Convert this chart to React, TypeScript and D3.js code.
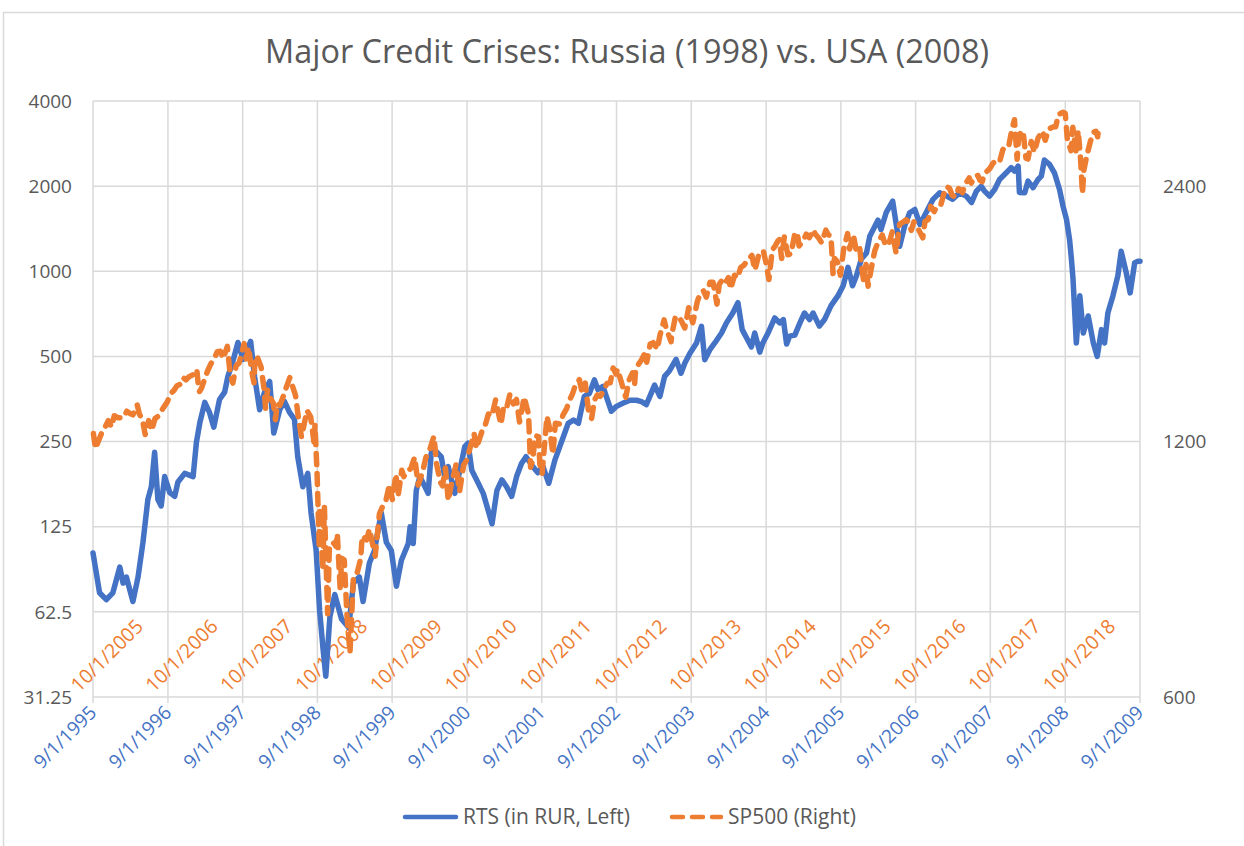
import * as d3 from "d3";

const WIDTH = 1244;
const HEIGHT = 846;
const PLOT = { left: 93, right: 1140, top: 101, bottom: 697 };
const FONT = "'Open Sans', 'Noto Sans', sans-serif";
const GRID = "#d9d9d9";
const TEXT = "#595959";
const BLUE = "#4472c4";
const ORANGE = "#ed7d31";

const TITLE = "Major Credit Crises: Russia (1998) vs. USA (2008)";
const LEGEND = ["RTS (in RUR, Left)", "SP500 (Right)"];

const leftTicks = [31.25, 62.5, 125, 250, 500, 1000, 2000, 4000];
const rightTicks = [600, 1200, 2400];
const bottomTickLabels = [
  "9/1/1995", "9/1/1996", "9/1/1997", "9/1/1998", "9/1/1999",
  "9/1/2000", "9/1/2001", "9/1/2002", "9/1/2003", "9/1/2004",
  "9/1/2005", "9/1/2006", "9/1/2007", "9/1/2008", "9/1/2009",
];
const topTickLabels = [
  "10/1/2005", "10/1/2006", "10/1/2007", "10/1/2008", "10/1/2009",
  "10/1/2010", "10/1/2011", "10/1/2012", "10/1/2013", "10/1/2014",
  "10/1/2015", "10/1/2016", "10/1/2017", "10/1/2018",
];
const topAxisDomain = ["10/1/2005", "10/1/2019"];

// RTS (left axis)
const rtsSeries: [string, number][] = [
  ["1995-09-01", 101], ["1995-10-03", 73], ["1995-11-05", 69], ["1995-12-07", 73],
  ["1996-01-10", 90], ["1996-01-26", 79], ["1996-02-11", 83], ["1996-03-14", 68],
  ["1996-04-08", 83], ["1996-05-02", 110], ["1996-05-26", 156], ["1996-06-12", 173],
  ["1996-06-28", 229], ["1996-07-14", 156], ["1996-07-30", 148], ["1996-08-16", 188],
  ["1996-09-10", 165], ["1996-10-04", 160], ["1996-10-20", 180], ["1996-11-22", 193],
  ["1997-01-02", 188], ["1997-01-18", 248], ["1997-02-04", 292], ["1997-02-28", 344],
  ["1997-03-23", 317], ["1997-04-13", 281], ["1997-05-11", 352], ["1997-06-05", 374],
  ["1997-06-21", 425], ["1997-07-15", 480], ["1997-08-09", 560], ["1997-09-03", 488],
  ["1997-10-10", 565], ["1997-10-29", 425], ["1997-11-23", 324], ["1997-12-17", 374],
  ["1998-01-11", 408], ["1998-01-31", 268], ["1998-03-01", 324], ["1998-03-24", 347],
  ["1998-04-18", 317], ["1998-05-12", 300], ["1998-05-28", 221], ["1998-06-22", 173],
  ["1998-07-16", 193], ["1998-08-01", 140], ["1998-08-26", 103], ["1998-09-12", 63],
  ["1998-09-29", 46], ["1998-10-12", 37], ["1998-11-01", 60], ["1998-11-25", 72],
  ["1998-12-28", 59], ["1999-02-01", 55], ["1999-02-24", 79], ["1999-03-25", 83],
  ["1999-04-12", 68], ["1999-05-13", 93], ["1999-06-07", 103], ["1999-07-10", 140],
  ["1999-08-04", 110], ["1999-08-28", 103], ["1999-09-22", 77], ["1999-10-16", 95],
  ["1999-11-19", 109], ["1999-11-28", 125], ["1999-12-13", 109], ["1999-12-28", 168],
  ["2000-01-15", 188], ["2000-02-24", 164], ["2000-03-10", 228], ["2000-04-04", 230],
  ["2000-04-28", 221], ["2000-05-15", 188], ["2000-06-01", 204], ["2000-07-03", 164],
  ["2000-07-28", 198], ["2000-08-21", 240], ["2000-09-06", 247], ["2000-09-24", 198],
  ["2000-10-18", 183], ["2000-11-19", 164], ["2000-12-13", 143], ["2001-01-01", 128],
  ["2001-01-25", 168], ["2001-02-18", 183], ["2001-03-13", 173], ["2001-04-07", 160],
  ["2001-05-01", 188], ["2001-05-25", 209], ["2001-06-16", 221], ["2001-07-19", 204],
  ["2001-08-13", 194], ["2001-09-07", 204], ["2001-10-05", 178], ["2001-11-04", 215],
  ["2001-11-28", 240], ["2001-12-22", 268], ["2002-01-08", 290], ["2002-02-03", 298],
  ["2002-02-27", 290], ["2002-03-13", 324], ["2002-03-28", 361], ["2002-04-22", 370],
  ["2002-05-16", 413], ["2002-06-02", 382], ["2002-06-27", 392], ["2002-07-13", 361],
  ["2002-08-07", 320], ["2002-09-01", 333], ["2002-10-04", 342], ["2002-11-06", 350],
  ["2002-12-08", 350], ["2003-01-01", 346], ["2003-01-25", 338], ["2003-02-11", 361],
  ["2003-03-06", 396], ["2003-04-01", 361], ["2003-04-24", 425], ["2003-05-18", 445],
  ["2003-06-19", 488], ["2003-07-13", 436], ["2003-08-01", 474], ["2003-08-25", 512],
  ["2003-09-27", 558], ["2003-10-21", 639], ["2003-11-06", 487], ["2003-12-01", 528],
  ["2003-12-25", 558], ["2004-01-27", 605], ["2004-02-20", 657], ["2004-03-22", 712],
  ["2004-04-16", 775], ["2004-05-07", 622], ["2004-05-28", 582], ["2004-06-21", 540],
  ["2004-07-07", 605], ["2004-08-01", 518], ["2004-08-16", 558], ["2004-09-10", 605],
  ["2004-10-13", 684], ["2004-11-06", 657], ["2004-11-24", 675], ["2004-12-10", 553],
  ["2004-12-25", 590], ["2005-01-19", 595], ["2005-02-13", 657], ["2005-03-07", 712],
  ["2005-04-01", 675], ["2005-04-18", 712], ["2005-05-19", 640], ["2005-06-13", 675],
  ["2005-07-15", 756], ["2005-08-18", 820], ["2005-09-12", 889], ["2005-10-06", 1033],
  ["2005-10-28", 889], ["2005-11-16", 965], ["2005-12-10", 1105], ["2006-01-04", 1160],
  ["2006-01-20", 1330], ["2006-02-14", 1443], ["2006-03-01", 1516], ["2006-03-16", 1405],
  ["2006-04-10", 1611], ["2006-05-12", 1769], ["2006-05-28", 1487], ["2006-06-15", 1226],
  ["2006-07-09", 1443], ["2006-08-03", 1611], ["2006-08-28", 1654], ["2006-09-22", 1464],
  ["2006-10-22", 1611], ["2006-11-25", 1796], ["2006-12-27", 1894], ["2007-01-31", 1844],
  ["2007-03-01", 1796], ["2007-04-04", 1894], ["2007-05-06", 1844], ["2007-06-01", 1750],
  ["2007-06-25", 1920], ["2007-07-19", 2000], ["2007-08-04", 1920], ["2007-08-28", 1844],
  ["2007-09-22", 1946], ["2007-10-16", 2112], ["2007-11-18", 2230], ["2007-12-12", 2324],
  ["2007-12-28", 2260], ["2008-01-15", 2354], ["2008-01-21", 1900], ["2008-02-16", 1894],
  ["2008-03-03", 2083], ["2008-03-28", 1975], ["2008-04-21", 2112], ["2008-05-07", 2170],
  ["2008-05-22", 2474], ["2008-06-16", 2390], ["2008-07-10", 2230], ["2008-08-04", 1946],
  ["2008-08-21", 1700], ["2008-09-07", 1526], ["2008-09-22", 1294], ["2008-10-01", 1105],
  ["2008-10-09", 935], ["2008-10-25", 558], ["2008-11-11", 820], ["2008-11-28", 605],
  ["2008-12-22", 695], ["2009-01-16", 558], ["2009-02-04", 500], ["2009-02-25", 622],
  ["2009-03-12", 558], ["2009-03-28", 712], ["2009-04-22", 820], ["2009-05-16", 965],
  ["2009-06-01", 1177], ["2009-06-26", 987], ["2009-07-15", 839], ["2009-08-06", 1072],
  ["2009-08-22", 1085], ["2009-09-01", 1085],
];

// S&P 500 (right axis, top date axis)
const spxSeries: [string, number][] = [
  ["2005-10-03", 1226], ["2005-10-13", 1177], ["2005-10-31", 1207], ["2005-11-15", 1233],
  ["2005-11-30", 1249], ["2005-12-15", 1270], ["2005-12-30", 1248], ["2006-01-13", 1287],
  ["2006-01-31", 1280], ["2006-02-15", 1280], ["2006-02-28", 1281], ["2006-03-15", 1303],
  ["2006-03-31", 1295], ["2006-04-14", 1290], ["2006-04-28", 1311], ["2006-05-05", 1325],
  ["2006-05-15", 1294], ["2006-05-31", 1270], ["2006-06-13", 1223], ["2006-06-30", 1270],
  ["2006-07-14", 1236], ["2006-07-31", 1277], ["2006-08-15", 1285], ["2006-08-31", 1304],
  ["2006-09-15", 1321], ["2006-09-29", 1336], ["2006-10-13", 1365], ["2006-10-31", 1378],
  ["2006-11-15", 1396], ["2006-11-30", 1401], ["2006-12-15", 1427], ["2006-12-29", 1418],
  ["2007-01-12", 1430], ["2007-01-31", 1438], ["2007-02-20", 1459], ["2007-02-27", 1399],
  ["2007-03-05", 1374], ["2007-03-15", 1387], ["2007-03-30", 1421], ["2007-04-13", 1452],
  ["2007-04-30", 1482], ["2007-05-15", 1501], ["2007-05-31", 1531], ["2007-06-15", 1533],
  ["2007-06-29", 1503], ["2007-07-19", 1553], ["2007-07-31", 1455], ["2007-08-15", 1406],
  ["2007-08-31", 1474], ["2007-09-14", 1484], ["2007-09-28", 1527], ["2007-10-09", 1565],
  ["2007-10-19", 1501], ["2007-10-31", 1549], ["2007-11-15", 1452], ["2007-11-26", 1407],
  ["2007-11-30", 1481], ["2007-12-10", 1515], ["2007-12-31", 1468], ["2008-01-15", 1380],
  ["2008-01-22", 1310], ["2008-01-31", 1379], ["2008-02-15", 1349], ["2008-02-29", 1331],
  ["2008-03-10", 1273], ["2008-03-19", 1330], ["2008-03-31", 1323], ["2008-04-15", 1351],
  ["2008-04-30", 1386], ["2008-05-19", 1427], ["2008-05-30", 1400], ["2008-06-16", 1360],
  ["2008-06-30", 1280], ["2008-07-15", 1215], ["2008-07-31", 1267], ["2008-08-11", 1305],
  ["2008-08-29", 1283], ["2008-09-15", 1193], ["2008-09-19", 1255], ["2008-09-29", 1106],
  ["2008-10-10", 899], ["2008-10-13", 1003], ["2008-10-27", 848], ["2008-11-04", 1005],
  ["2008-11-20", 752], ["2008-11-28", 896], ["2008-12-08", 909], ["2008-12-16", 913],
  ["2008-12-31", 903], ["2009-01-06", 935], ["2009-01-20", 805], ["2009-01-28", 874],
  ["2009-02-09", 870], ["2009-02-23", 743], ["2009-03-09", 677], ["2009-03-26", 832],
  ["2009-04-14", 842], ["2009-04-30", 873], ["2009-05-08", 929], ["2009-05-29", 919],
  ["2009-06-12", 946], ["2009-07-10", 879], ["2009-07-31", 987], ["2009-08-14", 1004],
  ["2009-08-31", 1021], ["2009-09-18", 1068], ["2009-10-02", 1025], ["2009-10-19", 1098],
  ["2009-10-30", 1036], ["2009-11-17", 1110], ["2009-11-27", 1091], ["2009-12-15", 1108],
  ["2009-12-31", 1115], ["2010-01-19", 1150], ["2010-02-05", 1066], ["2010-02-26", 1104],
  ["2010-03-15", 1150], ["2010-03-31", 1169], ["2010-04-23", 1217], ["2010-05-06", 1128],
  ["2010-05-25", 1074], ["2010-06-04", 1064], ["2010-06-18", 1117], ["2010-07-02", 1022],
  ["2010-07-16", 1065], ["2010-08-09", 1127], ["2010-08-26", 1047], ["2010-09-15", 1126],
  ["2010-09-30", 1141], ["2010-10-15", 1176], ["2010-11-05", 1226], ["2010-11-16", 1178],
  ["2010-12-15", 1236], ["2010-12-31", 1258], ["2011-01-14", 1293], ["2011-01-31", 1286],
  ["2011-02-18", 1343], ["2011-03-16", 1257], ["2011-03-31", 1326], ["2011-04-15", 1320],
  ["2011-04-29", 1364], ["2011-05-16", 1329], ["2011-05-31", 1345], ["2011-06-15", 1265],
  ["2011-06-30", 1321], ["2011-07-07", 1354], ["2011-07-29", 1292], ["2011-08-08", 1119],
  ["2011-08-18", 1140], ["2011-08-31", 1219], ["2011-09-16", 1216], ["2011-09-22", 1129],
  ["2011-10-03", 1099], ["2011-10-27", 1285], ["2011-11-10", 1239], ["2011-11-25", 1159],
  ["2011-12-07", 1261], ["2011-12-30", 1258], ["2012-01-13", 1289], ["2012-01-31", 1312],
  ["2012-02-15", 1344], ["2012-02-29", 1366], ["2012-03-15", 1402], ["2012-04-02", 1419],
  ["2012-04-16", 1370], ["2012-05-01", 1406], ["2012-05-18", 1295], ["2012-06-01", 1278],
  ["2012-06-15", 1343], ["2012-06-29", 1362], ["2012-07-13", 1356], ["2012-07-31", 1379],
  ["2012-08-15", 1405], ["2012-08-31", 1407], ["2012-09-14", 1465], ["2012-09-28", 1441],
  ["2012-10-05", 1460], ["2012-10-23", 1413], ["2012-11-15", 1353], ["2012-11-30", 1416],
  ["2012-12-18", 1446], ["2012-12-28", 1402], ["2013-01-02", 1462], ["2013-01-31", 1498],
  ["2013-02-19", 1530], ["2013-02-25", 1488], ["2013-03-14", 1563], ["2013-03-29", 1569],
  ["2013-04-18", 1541], ["2013-04-30", 1598], ["2013-05-21", 1669], ["2013-05-31", 1631],
  ["2013-06-24", 1573], ["2013-06-28", 1606], ["2013-07-15", 1682], ["2013-07-31", 1686],
  ["2013-08-15", 1661], ["2013-08-30", 1633], ["2013-09-18", 1725], ["2013-09-30", 1682],
  ["2013-10-08", 1656], ["2013-10-31", 1757], ["2013-11-15", 1798], ["2013-11-29", 1806],
  ["2013-12-13", 1775], ["2013-12-31", 1848], ["2014-01-15", 1848], ["2014-02-03", 1742],
  ["2014-02-14", 1838], ["2014-02-28", 1859], ["2014-03-14", 1841], ["2014-03-31", 1872],
  ["2014-04-11", 1815], ["2014-04-30", 1884], ["2014-05-15", 1870], ["2014-05-30", 1924],
  ["2014-06-16", 1937], ["2014-06-30", 1960], ["2014-07-24", 1988], ["2014-08-07", 1910],
  ["2014-08-29", 2003], ["2014-09-18", 2011], ["2014-10-01", 1946], ["2014-10-15", 1862],
  ["2014-10-31", 2018], ["2014-11-14", 2039], ["2014-11-28", 2068], ["2014-12-05", 2075],
  ["2014-12-16", 1972], ["2014-12-29", 2090], ["2015-01-15", 1992], ["2015-01-30", 1995],
  ["2015-02-17", 2100], ["2015-03-02", 2117], ["2015-03-11", 2040], ["2015-03-31", 2068],
  ["2015-04-15", 2106], ["2015-04-30", 2086], ["2015-05-21", 2131], ["2015-05-29", 2107],
  ["2015-06-15", 2084], ["2015-06-29", 2058], ["2015-07-20", 2129], ["2015-07-31", 2104],
  ["2015-08-14", 2092], ["2015-08-24", 1893], ["2015-08-31", 1972], ["2015-09-14", 1954],
  ["2015-09-29", 1884], ["2015-10-15", 2023], ["2015-11-03", 2109], ["2015-11-13", 2023],
  ["2015-12-01", 2103], ["2015-12-14", 2022], ["2015-12-31", 2044], ["2016-01-11", 1923],
  ["2016-01-20", 1859], ["2016-02-01", 1940], ["2016-02-11", 1829], ["2016-02-29", 1932],
  ["2016-03-15", 2015], ["2016-03-31", 2060], ["2016-04-20", 2102], ["2016-05-04", 2051],
  ["2016-05-19", 2040], ["2016-06-08", 2119], ["2016-06-27", 2001], ["2016-07-14", 2164],
  ["2016-07-29", 2174], ["2016-08-15", 2190], ["2016-08-31", 2171], ["2016-09-09", 2128],
  ["2016-09-22", 2178], ["2016-10-14", 2133], ["2016-11-04", 2085], ["2016-11-15", 2180],
  ["2016-12-01", 2191], ["2016-12-13", 2271], ["2016-12-30", 2239], ["2017-01-13", 2275],
  ["2017-01-31", 2279], ["2017-02-15", 2350], ["2017-03-01", 2396], ["2017-03-15", 2385],
  ["2017-03-27", 2342], ["2017-04-13", 2329], ["2017-04-28", 2384], ["2017-05-17", 2357],
  ["2017-05-31", 2412], ["2017-06-19", 2453], ["2017-06-29", 2419], ["2017-07-14", 2459],
  ["2017-07-31", 2470], ["2017-08-10", 2438], ["2017-08-21", 2428], ["2017-09-01", 2477],
  ["2017-09-15", 2500], ["2017-09-29", 2519], ["2017-10-13", 2553], ["2017-10-31", 2575],
  ["2017-11-15", 2565], ["2017-11-30", 2648], ["2017-12-15", 2676], ["2017-12-29", 2674],
  ["2018-01-12", 2786], ["2018-01-26", 2873], ["2018-02-08", 2581], ["2018-02-15", 2732],
  ["2018-02-26", 2780], ["2018-03-09", 2786], ["2018-03-23", 2588], ["2018-04-02", 2582],
  ["2018-04-18", 2708], ["2018-05-03", 2630], ["2018-05-21", 2733], ["2018-06-12", 2786],
  ["2018-06-25", 2717], ["2018-07-13", 2801], ["2018-07-31", 2816], ["2018-08-15", 2818],
  ["2018-08-29", 2914], ["2018-09-20", 2931], ["2018-10-01", 2924], ["2018-10-11", 2728],
  ["2018-10-29", 2641], ["2018-11-07", 2814], ["2018-11-23", 2633], ["2018-12-03", 2790],
  ["2018-12-14", 2600], ["2018-12-24", 2351], ["2018-12-31", 2507], ["2019-01-15", 2610],
  ["2019-01-31", 2704], ["2019-02-15", 2776], ["2019-02-28", 2784], ["2019-03-08", 2743],
  ["2019-03-15", 2822],
];

const parseDay = d3.timeParse("%Y-%m-%d");
const parseTick = d3.timeParse("%m/%d/%Y");

export default function App() {
  const bottomDates = bottomTickLabels.map((s) => parseTick(s) as Date);
  const topDates = topTickLabels.map((s) => parseTick(s) as Date);

  const xLeft = d3
    .scaleTime()
    .domain([bottomDates[0], bottomDates[bottomDates.length - 1]])
    .range([PLOT.left, PLOT.right]);
  const xRight = d3
    .scaleTime()
    .domain(topAxisDomain.map((s) => parseTick(s) as Date))
    .range([PLOT.left, PLOT.right]);
  const yLeft = d3
    .scaleLog()
    .base(2)
    .domain([leftTicks[0], leftTicks[leftTicks.length - 1]])
    .range([PLOT.bottom, PLOT.top]);
  const yRight = d3
    .scaleLog()
    .base(2)
    .domain([rightTicks[0], rightTicks[rightTicks.length - 1]])
    .range([PLOT.bottom, 186]);

  const rtsPath =
    d3
      .line<[string, number]>()
      .x((d) => xLeft(parseDay(d[0]) as Date))
      .y((d) => yLeft(d[1]))(rtsSeries) ?? "";
  const spxPath =
    d3
      .line<[string, number]>()
      .x((d) => xRight(parseDay(d[0]) as Date))
      .y((d) => yRight(d[1]))(spxSeries) ?? "";

  const legendY = 817;

  return (
    <svg
      width={WIDTH}
      height={HEIGHT}
      viewBox={`0 0 ${WIDTH} ${HEIGHT}`}
      style={{ position: "absolute", left: 0, top: 0, background: "#fff" }}
      fontFamily={FONT}
    >
      <rect x={0} y={0} width={WIDTH} height={HEIGHT} fill="#fff" />
      <rect x={3.5} y={12.5} width={1260} height={860} fill="none" stroke={GRID} strokeWidth={1.5} />

      <text
        x={627}
        y={63}
        textAnchor="middle"
        fontSize={32}
        fill={TEXT}
        textLength={724}
        lengthAdjust="spacingAndGlyphs"
      >
        {TITLE}
      </text>

      {/* gridlines */}
      {leftTicks.map((t) => (
        <line key={`h${t}`} x1={PLOT.left} x2={PLOT.right} y1={yLeft(t)} y2={yLeft(t)} stroke={GRID} strokeWidth={1.5} />
      ))}
      {bottomDates.map((d, i) => (
        <line key={`v${i}`} x1={xLeft(d)} x2={xLeft(d)} y1={PLOT.top} y2={PLOT.bottom + 6} stroke={GRID} strokeWidth={1.5} />
      ))}

      {/* left axis */}
      {leftTicks.map((t) => (
        <text key={`l${t}`} x={72} y={yLeft(t)} dy="0.35em" textAnchor="end" fontSize={19} fill={TEXT}>
          {t}
        </text>
      ))}
      {/* right axis */}
      {rightTicks.map((t) => (
        <text key={`r${t}`} x={1163} y={yRight(t)} dy="0.35em" textAnchor="start" fontSize={19} fill={TEXT}>
          {t}
        </text>
      ))}

      {/* bottom date axis */}
      {bottomDates.map((d, i) => (
        <text
          key={`b${i}`}
          transform={`translate(${xLeft(d)},${PLOT.bottom + 12}) rotate(-45)`}
          dy="0.35em"
          textAnchor="end"
          fontSize={19}
          fill={BLUE}
        >
          {bottomTickLabels[i]}
        </text>
      ))}
      {/* secondary date axis */}
      {topDates.map((d, i) => (
        <text
          key={`t${i}`}
          transform={`translate(${xRight(d) - 14},${PLOT.bottom - 4}) rotate(-45)`}
          textAnchor="start"
          fontSize={19.5}
          fill={ORANGE}
        >
          {topTickLabels[i]}
        </text>
      ))}

      <path d={rtsPath} fill="none" stroke={BLUE} strokeWidth={5.5} strokeLinejoin="round" strokeLinecap="round" />
      <path
        d={spxPath}
        fill="none"
        stroke={ORANGE}
        strokeWidth={5.5}
        strokeDasharray="11 9"
        strokeLinejoin="round"
        strokeLinecap="round"
      />

      {/* legend */}
      <line x1={405} x2={456} y1={legendY} y2={legendY} stroke={BLUE} strokeWidth={4.5} strokeLinecap="round" />
      <text x={463} y={legendY} dy="0.35em" fontSize={21} fill={TEXT}>
        {LEGEND[0]}
      </text>
      <line
        x1={672}
        x2={721}
        y1={legendY}
        y2={legendY}
        stroke={ORANGE}
        strokeWidth={4.5}
        strokeDasharray="11 9"
        strokeLinecap="round"
      />
      <text x={728} y={legendY} dy="0.35em" fontSize={21} fill={TEXT}>
        {LEGEND[1]}
      </text>
    </svg>
  );
}
